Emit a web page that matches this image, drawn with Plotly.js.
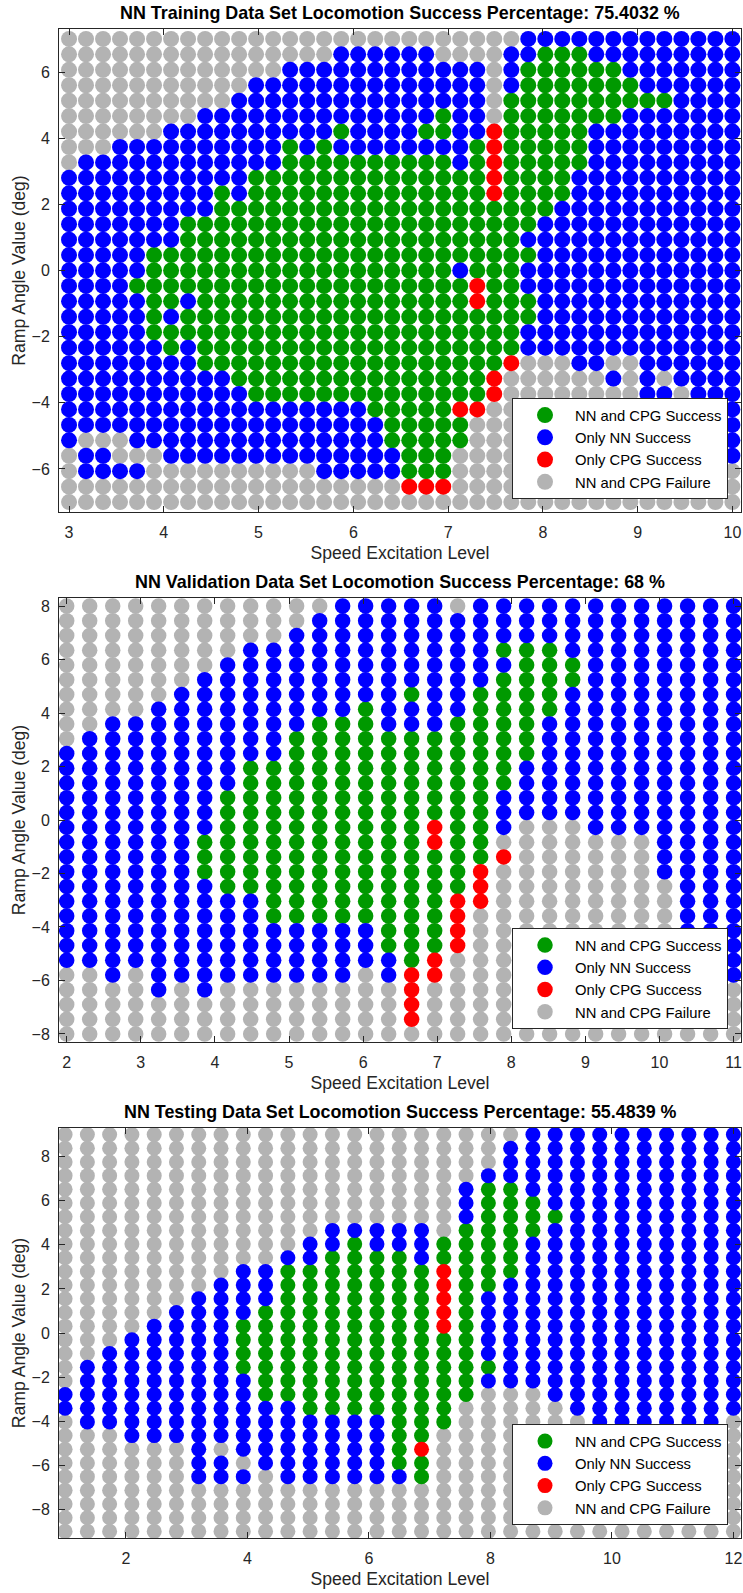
<!DOCTYPE html>
<html><head><meta charset="utf-8">
<script src="https://cdn.plot.ly/plotly-3.0.1.min.js"></script>
<style>html,body{margin:0;padding:0;background:#fff}#chart{width:743px;height:1593px}</style>
</head><body><div id="chart"></div>
<script>
// ---------- categories ----------
const categories = ['NN and CPG Success', 'Only NN Success', 'Only CPG Success', 'NN and CPG Failure'];
const categoryCodes = ['g', 'b', 'r', 'k'];
const categoryColors = ['rgb(0,153,0)', 'rgb(0,0,255)', 'rgb(255,0,0)', 'rgb(179,179,179)'];

// ---------- Training data set (40 speeds x 31 angles) ----------
const trainTitle = 'NN Training Data Set Locomotion Success Percentage: 75.4032 %';
const trainSpeeds = [3.000,3.179,3.359,3.538,3.718,3.897,4.077,4.256,4.436,4.615,4.795,4.974,5.154,5.333,5.513,5.692,5.872,6.051,6.231,6.410,
  6.590,6.769,6.949,7.128,7.308,7.487,7.667,7.846,8.026,8.205,8.385,8.564,8.744,8.923,9.103,9.282,9.462,9.641,9.821,10.000];
// top (7) to bottom (-7)
const trainAngles = [7,6.533,6.067,5.6,5.133,4.667,4.2,3.733,3.267,2.8,2.333,1.867,1.4,0.933,0.467,0,
  -0.467,-0.933,-1.4,-1.867,-2.333,-2.8,-3.267,-3.733,-4.2,-4.667,-5.133,-5.6,-6.067,-6.533,-7];
// one run-length coded row per angle (top to bottom), across speeds
const trainRows = [
  'k27 b13',
  'k16 b6 k4 b2 g3 b9',
  'k13 b12 k1 b1 g6 b7',
  'k11 b14 k1 b1 g7 b6',
  'k10 b15 k1 g10 b4',
  'k8 b14 g1 b2 k1 g7 b7',
  'k6 b10 g1 b4 g2 b2 r1 g5 b9',
  'k3 b10 g1 b1 g1 b8 g1 r1 g5 b9',
  'k1 b12 g10 b1 g1 r1 g5 b9',
  'b11 g14 r1 g4 b10',
  'b9 g1 b1 g14 r1 g4 b10',
  'b9 g20 b11',
  'b7 g21 b12',
  'b7 g20 b13',
  'b5 g23 b12',
  'b5 g18 b1 g3 b13',
  'b4 g20 r1 g2 b13',
  'b5 g2 b1 g16 r1 g3 b12',
  'b5 g1 b1 g21 b12',
  'b5 g22 b13',
  'b6 g1 b1 g19 b13',
  'b8 g18 r1 k3 b2 k2 b6',
  'b10 g15 r1 k6 b1 k1 b1 k1 b4',
  'b11 g14 r1 k8 b2 k1 b3',
  'b18 g5 r2 k11 b2 k1 b1',
  'b19 g5 k12 b4',
  'b1 k3 b15 g5 k14 b2',
  'k1 b2 k3 b14 g3 k15 b2',
  'k1 b4 k10 b5 g3 k17',
  'k20 r3 k17',
  'k40'
];

// ---------- Validation data set (30 speeds x 30 angles) ----------
const valTitle = 'NN Validation Data Set Locomotion Success Percentage: 68 %';
const valSpeeds = [2.000,2.310,2.621,2.931,3.241,3.552,3.862,4.172,4.483,4.793,5.103,5.414,5.724,6.034,6.345,
  6.655,6.966,7.276,7.586,7.897,8.207,8.517,8.828,9.138,9.448,9.759,10.069,10.379,10.690,11.000];
const valAngles = [8,7.448,6.897,6.345,5.793,5.241,4.690,4.138,3.586,3.034,2.483,1.931,1.379,0.828,0.276,
  -0.276,-0.828,-1.379,-1.931,-2.483,-3.034,-3.586,-4.138,-4.690,-5.241,-5.793,-6.345,-6.897,-7.448,-8];
const valRows = [
  'k12 b5 k1 b12',
  'k11 b19',
  'k10 b20',
  'k8 b11 g3 b8',
  'k7 b13 g3 b7',
  'k6 b13 g4 b7',
  'k5 b10 g1 b2 g4 b8',
  'k4 b9 g1 b4 g4 b8',
  'k2 b9 g3 b3 g4 b9',
  'k1 b9 g11 b9',
  'b10 g11 b9',
  'b8 g12 b10',
  'b8 g12 b10',
  'b7 g12 b11',
  'b7 g12 b11',
  'b7 g9 r1 g2 b1 k3 b7',
  'b6 g10 r1 g2 k7 b4',
  'b6 g13 r1 k6 b4',
  'b6 g12 r1 k7 b4',
  'b7 g11 r1 k8 b3',
  'b9 g8 r2 k8 b3',
  'b9 g8 r1 k9 b3',
  'b14 g3 r1 k9 b3',
  'b14 g3 r1 k9 b3',
  'b15 g1 r1 k10 b3',
  'k2 b1 k1 b9 k1 b1 r2 k10 b3',
  'k4 b1 k1 b1 k8 r1 k14',
  'k15 r1 k14',
  'k15 r1 k14',
  'k30'
];

// ---------- Testing data set (31 speeds x 30 angles) ----------
const testTitle = 'NN Testing Data Set Locomotion Success Percentage: 55.4839 %';
const testSpeeds = [1.000,1.367,1.733,2.100,2.467,2.833,3.200,3.567,3.933,4.300,4.667,5.033,5.400,5.767,6.133,6.500,
  6.867,7.233,7.600,7.967,8.333,8.700,9.067,9.433,9.800,10.167,10.533,10.900,11.267,11.633,12.000];
const testAngles = [9,8.379,7.759,7.138,6.517,5.897,5.276,4.655,4.034,3.414,2.793,2.172,1.552,0.931,0.310,
  -0.310,-0.931,-1.552,-2.172,-2.793,-3.414,-4.034,-4.655,-5.276,-5.897,-6.517,-7.138,-7.759,-8.379,-9];
// one run-length coded column per speed (angles top to bottom)
const testColumns = [
  'k19 b2 k9',
  'k17 b5 k8',
  'k16 b6 k8',
  'k15 b8 k7',
  'k14 b9 k7',
  'k13 b10 k7',
  'k12 b14 k4',
  'k11 b12 k1 b2 k4',
  'k10 b4 g4 b6 k1 b1 k4',
  'k10 b3 g7 b5 k5',
  'k9 b1 g10 b6 k4',
  'k8 b2 g11 b5 k4',
  'k7 b2 g12 b5 k4',
  'k7 b1 g13 b5 k4',
  'k7 b2 g12 b5 k4',
  'k7 b2 g16 b1 k4',
  'k7 b3 g13 r1 g2 k4',
  'k8 g2 r5 g7 k8',
  'k4 b3 g13 k10',
  'k3 b1 g8 b5 g1 b1 k11',
  'k1 b3 g7 b8 k11',
  'b5 g3 b11 k11',
  'b6 g1 b13 k10',
  'b21 k9',
  'b24 k6',
  'b25 k5',
  'b25 k5',
  'b25 k5',
  'b25 k5',
  'b25 k5',
  'b21 k9'
];

const xLabel = 'Speed Excitation Level';
const yLabel = 'Ramp Angle Value (deg)';

// ---------- helpers ----------
function decode(rle) {
  let s = '';
  rle.trim().split(/\s+/).forEach(t => { s += t[0].repeat(parseInt(t.slice(1), 10)); });
  return s;
}

const W = 743, H = 1593;
const FONT = 'Liberation Sans, Arial, Helvetica, sans-serif';
const drawOrder = [3, 0, 2, 1]; // gray, green, red, blue (blue on top)

function buildTraces(grid, xs, ys, byColumn, axisId, legendId, msize) {
  const traces = [];
  drawOrder.forEach(ci => {
    const code = categoryCodes[ci];
    const px = [], py = [];
    grid.forEach((rle, i) => {
      const s = decode(rle);
      for (let j = 0; j < s.length; j++) {
        if (s[j] !== code) continue;
        if (byColumn) { px.push(xs[i]); py.push(ys[j]); }
        else { px.push(xs[j]); py.push(ys[i]); }
      }
    });
    traces.push({
      type: 'scatter', mode: 'markers', x: px, y: py,
      name: categories[ci], legendrank: ci + 1,
      marker: {color: categoryColors[ci], size: msize, line: {width: 0}},
      xaxis: 'x' + (axisId === 1 ? '' : axisId), yaxis: 'y' + (axisId === 1 ? '' : axisId),
      legend: legendId, showlegend: true, hoverinfo: 'skip'
    });
  });
  return traces;
}

const data = [].concat(
  buildTraces(trainRows, trainSpeeds, trainAngles, false, 1, 'legend', 16),
  buildTraces(valRows, valSpeeds, valAngles, false, 2, 'legend2', 15.5),
  buildTraces(testColumns, testSpeeds, testAngles, true, 3, 'legend3', 15)
);

// panel boxes in pixels: [left, right, top, bottom]
const boxes = [[59, 741, 29, 512], [59, 741, 598, 1042], [59, 741, 1128, 1538]];
const xRanges = [[2.894, 10.091], [1.896, 11.1], [0.9, 12.125]];
const yRanges = [[-7.3, 7.3], [-8.3, 8.3], [-9.3, 9.3]];
const xTickStep = [1, 1, 2];
const titles = [trainTitle, valTitle, testTitle];

const axisCommon = {
  showline: true, mirror: 'ticks', linecolor: '#262626', linewidth: 1,
  ticks: 'inside', ticklen: 6, tickcolor: '#262626', tickwidth: 1,
  showgrid: false, zeroline: false, fixedrange: true, ticklabeloverflow: 'allow',
  tickfont: {family: FONT, size: 16, color: '#262626'}
};

const layout = {
  width: W, height: H, margin: {l: 0, r: 0, t: 0, b: 0},
  paper_bgcolor: '#fff', plot_bgcolor: '#fff',
  font: {family: FONT, color: '#262626'},
  annotations: []
};

boxes.forEach((b, i) => {
  const sfx = i === 0 ? '' : String(i + 1);
  layout['xaxis' + sfx] = Object.assign({}, axisCommon, {
    domain: [b[0] / W, b[1] / W], range: xRanges[i], anchor: 'y' + sfx,
    dtick: xTickStep[i], tick0: 0, ticklabelstandoff: 6,
    title: {text: xLabel, font: {family: FONT, size: 17.6, color: '#262626'}, standoff: 6}
  });
  layout['yaxis' + sfx] = Object.assign({}, axisCommon, {
    domain: [1 - b[3] / H, 1 - b[2] / H], range: yRanges[i], anchor: 'x' + sfx,
    dtick: 2, tick0: 0, ticklabelstandoff: 5,
    title: {text: yLabel, font: {family: FONT, size: 17.6, color: '#262626'}, standoff: 1}
  });
  layout['legend' + sfx] = {
    x: 728 / W, xanchor: 'right', y: 1 - (b[3] - 13) / H, yanchor: 'bottom',
    bgcolor: '#fff', bordercolor: '#262626', borderwidth: 1,
    font: {family: FONT, size: 14.8, color: '#000'}, itemwidth: 50, indentation: 2
  };
  layout.annotations.push({
    text: '<b>' + titles[i] + '</b>', xref: 'paper', yref: 'paper',
    x: (b[0] + b[1]) / 2 / W, y: 1 - (b[2] - 16) / H, xanchor: 'center', yanchor: 'middle',
    showarrow: false, font: {family: FONT, size: 17.9, color: '#000'}
  });
});

Plotly.newPlot('chart', data, layout, {staticPlot: true, displayModeBar: false});
</script>
</body></html>
